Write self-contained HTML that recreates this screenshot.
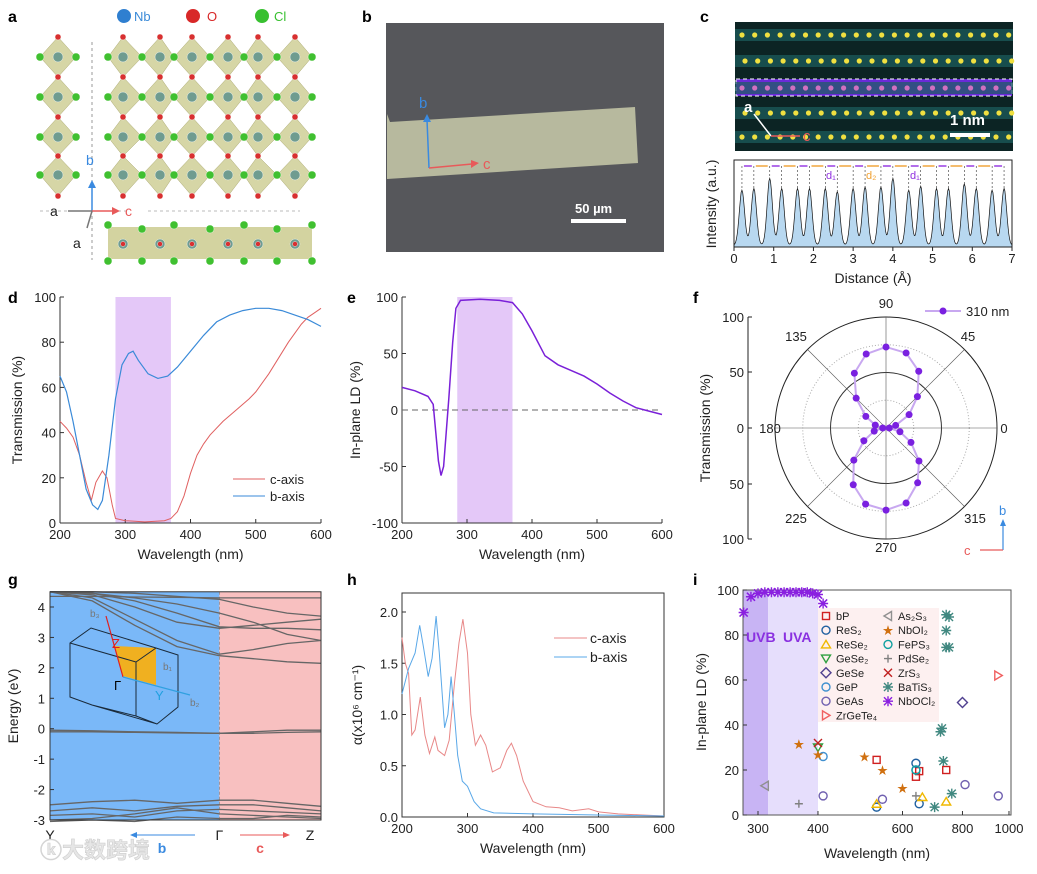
<!DOCTYPE html>
<html><head><meta charset="utf-8">
<style>
body{margin:0;background:#fff;}
svg{display:block;font-family:"Liberation Sans","Noto Sans CJK SC",sans-serif;}
.pl{font-size:16px;font-weight:bold;fill:#000;}
</style></head>
<body>
<svg id="fig" width="1037" height="874" viewBox="0 0 1037 874">
<text class="pl" x="8" y="22">a</text>
<text class="pl" x="362" y="22">b</text>
<text class="pl" x="700" y="22">c</text>
<text class="pl" x="8" y="303">d</text>
<text class="pl" x="347" y="303">e</text>
<text class="pl" x="693" y="303">f</text>
<text class="pl" x="8" y="585">g</text>
<text class="pl" x="347" y="585">h</text>
<text class="pl" x="693" y="585">i</text>

<g>
<circle cx="124" cy="16" r="7" fill="#2f7fd0"/><text x="134" y="21" font-size="13" fill="#3a8ad8">Nb</text>
<circle cx="193" cy="16" r="7" fill="#d82828"/><text x="207" y="21" font-size="13" fill="#d82828">O</text>
<circle cx="262" cy="16" r="7" fill="#38c030"/><text x="274" y="21" font-size="13" fill="#38c030">Cl</text>
</g>
<g id="pa"></g>

<g>
<rect x="386" y="23" width="278" height="229" fill="#56575b"/>
<polygon points="387,114 390,122 635,107 638,163 387,179" fill="#b7b99e"/>
<line x1="429" y1="168" x2="427" y2="120" stroke="#3a8ae0" stroke-width="1.5"/>
<polygon points="427,114 423,122 431,122" fill="#3a8ae0"/>
<text x="419" y="108" font-size="15" fill="#3a8ae0">b</text>
<line x1="429" y1="168" x2="472" y2="164" stroke="#e85a5a" stroke-width="1.5"/>
<polygon points="479,163 471,160 471,168" fill="#e85a5a"/>
<text x="483" y="169" font-size="15" fill="#e85a5a">c</text>
<text x="575" y="213" font-size="13" font-weight="bold" fill="#fff">50 µm</text>
<rect x="571" y="219" width="55" height="4" fill="#fff"/>
</g>

<g id="pc">
<rect x="735" y="22" width="278" height="129" fill="#0c2424"/>
</g>
<g id="pcp"></g>

<g id="pd"></g>
<g id="pe"></g>
<g id="pf"></g>
<g id="pg"></g>
<g id="ph"></g>
<g id="pi"></g>
<text x="40" y="858" font-size="22" font-weight="bold" fill="#e6e6e6" stroke="#cfcfcf" stroke-width="0.6">ⓚ大数跨境</text>
</svg>
<script>
const NS='http://www.w3.org/2000/svg';
function mk(parent,tag,attrs,name){
  const el=document.createElementNS(NS,tag);
  for(const k in attrs) el.setAttribute(k,attrs[k]);
  
  
  parent.appendChild(el);return el;
}
function txt(parent,x,y,s,name,extra){
  const el=mk(parent,'text',Object.assign({x:x,y:y,'font-size':13,fill:'#222'},extra||{}),name);
  el.textContent=s;return el;
}
function lin(xd,xr,yd,yr){return [v=>xr[0]+(v-xd[0])/(xd[1]-xd[0])*(xr[1]-xr[0]), v=>yr[0]+(v-yd[0])/(yd[1]-yd[0])*(yr[1]-yr[0])];}
function pathOf(xs,ys,X,Y){return xs.map((x,i)=>(i?'L':'M')+X(x).toFixed(1)+','+Y(ys[i]).toFixed(1)).join('');}

const dWave=[200,210,220,230,240,248,255,265,272,280,285,300,330,360,370,380,390,400,410,420,430,450,470,490,500,520,550,570,580,590,600];
const dC=[45,42,38,30,18,10,18,23,20,8,2,1,0.5,1,2,5,12,22,30,35,39,45,50,55,58,66,80,88,91,93,95];
const dBWave=[200,210,220,230,240,250,258,265,275,285,295,305,312,320,335,350,365,380,400,420,440,460,480,500,520,540,560,580,600];
const dB=[65,58,45,30,15,8,6,10,30,55,70,75,76,72,66,64,65,69,76,83,89,92,94,95,95,94,92,90,87];
const eWave=[200,220,240,248,252,256,260,264,268,272,278,283,290,320,350,370,385,400,420,440,460,480,500,520,540,560,580,600];
const eLD=[20,17,12,5,-20,-45,-58,-50,-20,10,60,90,97,98,97,95,85,70,48,40,35,30,23,15,8,2,-1,-4];
const hCWave=[200,205,210,215,220,228,235,242,250,255,265,272,280,287,293,300,305,312,320,328,338,350,360,367,375,385,400,420,440,460,485,500,530,600];
const hC=[1.75,1.5,1.4,0.8,0.85,1.17,0.8,0.62,0.78,0.65,0.6,0.75,1.3,1.7,1.93,1.6,1.0,0.7,0.8,0.7,0.44,0.48,0.65,0.72,0.6,0.35,0.15,0.1,0.09,0.06,0.08,0.05,0.03,0.01];
const hBWave=[200,210,220,227,233,240,246,252,257,265,270,275,280,285,292,300,310,320,340,400,500,600];
const hB=[1.2,1.45,1.6,1.87,1.65,1.37,1.55,1.96,1.6,0.87,1.0,1.37,1.0,0.6,0.35,0.3,0.15,0.08,0.04,0.03,0.02,0.01];
const polarAngles=[0,15,30,45,60,75,90,105,120,135,150,165,180,195,210,225,240,255,270,285,300,315,330,345];
const polarT=[3,9,24,40,59,70,73,69,57,38,21,10,3,11,23,41,59,71,74,70,57,42,26,13];
const bandK=[0,0.25,0.5,0.75,1,1.2,1.4,1.6];
const bands=[
 [4.35,4.35,4.33,4.32,4.3,4.3,4.3,4.3],[4.5,4.45,4.2,3.8,3.35,3.3,3.3,3.25],[4.5,4.4,4.0,3.5,3.3,3.4,3.5,3.6],
 [4.5,4.3,3.6,2.9,2.45,2.6,2.8,2.9],[4.5,4.2,3.4,2.7,2.4,2.3,2.2,2.15],[4.5,4.45,4.3,4.1,3.8,3.5,3.1,2.9],
 [4.5,4.5,4.45,4.35,4.25,4.0,3.8,3.7],[-0.05,-0.07,-0.1,-0.12,-0.15,-0.1,-0.05,-0.05],[-0.1,-0.1,-0.12,-0.14,-0.15,-0.15,-0.12,-0.1],
 [-2.5,-2.4,-2.35,-2.45,-2.35,-2.35,-2.45,-2.55],[-2.7,-2.6,-2.7,-2.55,-2.5,-2.5,-2.6,-2.7],[-2.85,-2.8,-2.9,-2.7,-2.65,-2.7,-2.75,-2.8],
 [-3.0,-2.95,-2.8,-2.6,-2.8,-2.85,-2.9,-2.95],[-3.05,-3.0,-3.05,-2.9,-2.95,-2.95,-2.85,-2.9]];
const profPeaks=[0.2,0.5,0.9,1.2,1.6,1.9,2.3,2.6,3.0,3.3,3.7,4.0,4.4,4.7,5.1,5.4,5.8,6.1,6.5,6.8];
const profHeights=[0.7,0.72,0.85,0.72,0.72,0.72,0.72,0.68,0.72,0.74,0.74,0.85,0.7,0.75,0.72,0.72,0.78,0.72,0.7,0.72];
const iMaterials=['bP','ReS2','ReSe2','GeSe2','GeSe','GeP','GeAs','ZrGeTe4','As2S3','NbOI2','FePS3','PdSe2','ZrS3','BaTiS3'];
const iWave=[[530,640,650,740],[530,640,650],[530,660,740],[400],[800],[410,640],[410,545,810,950],[950],[310],[365,400,500,545,600],[640],[365,640],[400],[700,720,725,730,740,750,740,740,750,760]];
const iLD=[[24.5,17,19.5,20],[3.5,23,5],[5,8,6],[30],[50],[26,20],[8.5,7,13.5,8.5],[62],[13],[31.5,27,26,20,12],[20],[5,8.5],[32],[3.5,37,38.5,24,89,88,82,74.5,74.5,9.5]];
const nbWave=[280,290,300,310,320,330,340,350,360,370,380,390,400,410];
const nbLD=[90,97,98.5,99,99,99,99,99,99,99,99,98.5,98,94];

(function(){
 const g=document.getElementById('pa');
 const oY=[37,77,117,156,196], nY=[57,97,137,175];
 function oct(cx,cy,l,r,t,b){mk(g,'polygon',{points:`${cx},${t} ${r},${cy} ${cx},${b} ${l},${cy}`,fill:'#c8c888','fill-opacity':0.75,stroke:'#aaa870','stroke-width':0.5},'octahedron');}
 const nbX=[123,160,192,228,258,295], clX=[108,142,174,210,244,277,312];
 nY.forEach((y,i)=>{oct(58,y,40,76,oY[i],oY[i+1]); nbX.forEach((x,j)=>oct(x,y,clX[j],clX[j+1],oY[i],oY[i+1]));});
 function atom(x,y,r,c,n){mk(g,'circle',{cx:x,cy:y,r:r,fill:c,stroke:'#fff','stroke-width':0.4},n);}
 nY.forEach(y=>{atom(58,y,5,'#6f9c90','nb-atom');atom(40,y,4,'#40c030','cl-atom');atom(76,y,4,'#40c030','cl-atom');
   nbX.forEach(x=>atom(x,y,5,'#6f9c90','nb-atom'));clX.forEach(x=>atom(x,y,4,'#40c030','cl-atom'));});
 oY.forEach(y=>{atom(58,y,3,'#d83030','o-atom');nbX.forEach(x=>atom(x,y,3,'#d83030','o-atom'));});
 mk(g,'line',{x1:92,y1:42,x2:92,y2:260,stroke:'#999','stroke-dasharray':'3,3'},'divider');
 mk(g,'line',{x1:40,y1:211,x2:130,y2:211,stroke:'#bbb','stroke-dasharray':'3,3'},'divider');
 mk(g,'line',{x1:148,y1:211,x2:300,y2:211,stroke:'#bbb','stroke-dasharray':'3,3'},'divider');
 mk(g,'rect',{x:108,y:227,width:204,height:32,fill:'#c8c888','fill-opacity':0.8},'side-slab');
 [108,142,174,210,244,277,312].forEach((x,i)=>{atom(x,i%2?229:225,4,'#40c030','cl-atom');atom(x,261,4,'#40c030','cl-atom');});
 nbX.forEach(x=>{atom(x,244,5,'#6f9c90','nb-atom');atom(x,244,2.5,'#d83030','o-atom');});
 mk(g,'line',{x1:92,y1:211,x2:92,y2:185,stroke:'#3a8ae0','stroke-width':1.5},'b-axis-arrow');
 mk(g,'polygon',{points:'92,180 88,188 96,188',fill:'#3a8ae0'},'b-axis-head');
 txt(g,86,165,'b','b-label',{fill:'#3a8ae0','font-size':14});
 mk(g,'line',{x1:92,y1:211,x2:115,y2:211,stroke:'#e85a5a','stroke-width':1.5},'c-axis-arrow');
 mk(g,'polygon',{points:'120,211 112,207 112,215',fill:'#e85a5a'},'c-axis-head');
 txt(g,125,216,'c','c-label',{fill:'#e85a5a','font-size':14});
 mk(g,'line',{x1:92,y1:211,x2:68,y2:211,stroke:'#777','stroke-width':1.5},'a-axis-arrow');
 txt(g,50,216,'a','a-label',{'font-size':14});
 mk(g,'line',{x1:92,y1:211,x2:87,y2:228,stroke:'#777','stroke-width':1.5},'a2-axis-arrow');
 txt(g,73,248,'a','a2-label',{'font-size':14});
})();

(function(){
 const g=document.getElementById('pc');
 const rows=[35,61,88,113,137];
 rows.forEach((y,r)=>{
  if(r===2){mk(g,'rect',{x:736,y:79,width:276,height:17,fill:'#6a2ad8'},'highlight-row');
            mk(g,'rect',{x:736,y:79,width:276,height:17,fill:'none',stroke:'#fff','stroke-dasharray':'4,3'},'highlight-box');}
  mk(g,'rect',{x:735,y:y-6,width:278,height:12,fill:'#1d5f5f','fill-opacity':0.7},'atom-row-band');
  for(let i=0;i<22;i++){const x=742+i*12.7+(r%2)*3;
   mk(g,'circle',{cx:x,cy:y,r:2.6,fill:r===2?'#d070c0':'#f0e040'},'atom-column');}
 });
 mk(g,'line',{x1:771,y1:136,x2:754,y2:114,stroke:'#fff','stroke-width':1.5},'a-arrow');
 txt(g,744,112,'a','a-label',{fill:'#fff','font-size':15,'font-weight':'bold'});
 mk(g,'line',{x1:771,y1:136,x2:800,y2:136,stroke:'#e85a5a','stroke-width':1.5},'c-arrow');
 txt(g,803,141,'c','c-label',{fill:'#e85a5a','font-size':15});
 txt(g,950,125,'1 nm','scale-bar-label',{fill:'#fff','font-size':15,'font-weight':'bold'});
 mk(g,'rect',{x:950,y:133,width:40,height:4,fill:'#fff'},'scale-bar');
 const p=document.getElementById('pcp');
 const [X,Y]=lin([0,7],[734,1012],[0,1],[247,168]);
 let d='M'+X(0)+','+Y(0);
 for(let x=0;x<=7;x+=0.02){let v=0.02;profPeaks.forEach((c,i)=>{v+=profHeights[i]*Math.exp(-Math.pow((x-c)/0.095,2));});v=Math.min(v,0.95);d+='L'+X(x).toFixed(1)+','+Y(v).toFixed(1);}
 d+='L'+X(7)+','+Y(0)+'Z';
 mk(p,'path',{d:d,fill:'#b8d8f0',stroke:'#111','stroke-width':0.7},'profile-line');
 profPeaks.forEach((c,i)=>{mk(p,'line',{x1:X(c),y1:166,x2:X(c),y2:Y(profHeights[i]),stroke:'#333','stroke-dasharray':'2,2','stroke-width':0.6},'peak-guide');
   if(i<profPeaks.length-1) mk(p,'line',{x1:X(c)+2,y1:166,x2:X(profPeaks[i+1])-2,y2:166,stroke:i%2?'#f0a030':'#9030e0','stroke-width':1.4},'spacing-arrow');});
 txt(p,826,179,'d₁','d1-label',{fill:'#9030e0','font-size':11});
 txt(p,866,179,'d₂','d2-label',{fill:'#f0a030','font-size':11});
 txt(p,910,179,'d₁','d1b-label',{fill:'#9030e0','font-size':11});
 mk(p,'rect',{x:734,y:160,width:278,height:87,fill:'none',stroke:'#222'},'profile-frame');
 for(let t=0;t<=7;t++){mk(p,'line',{x1:X(t),y1:247,x2:X(t),y2:251,stroke:'#222'},'x-tick');txt(p,X(t),263,String(t),'x-tick-label',{'text-anchor':'middle'});}
 txt(p,873,283,'Distance (Å)','x-axis-title',{'text-anchor':'middle','font-size':14});
 txt(p,0,0,'Intensity (a.u.)','y-axis-title',{'text-anchor':'middle','font-size':14,transform:'translate(716,204) rotate(-90)'});
})();

function axes(g,X,Y,xt,yt,xr,yr,xtitle,ytitle,ytx,frame,yfmt){
 if(frame) mk(g,'rect',{x:xr[0],y:yr[1],width:xr[1]-xr[0],height:yr[0]-yr[1],fill:'none',stroke:'#333'},'plot-frame');
 else {mk(g,'line',{x1:xr[0],y1:yr[0],x2:xr[1],y2:yr[0],stroke:'#333'},'x-axis-line');mk(g,'line',{x1:xr[0],y1:yr[0],x2:xr[0],y2:yr[1],stroke:'#333'},'y-axis-line');}
 xt.forEach(t=>{mk(g,'line',{x1:X(t),y1:yr[0],x2:X(t),y2:yr[0]-4,stroke:'#333'},'x-tick');txt(g,X(t),yr[0]+16,String(t),'x-tick-label',{'text-anchor':'middle'});});
 yt.forEach(t=>{mk(g,'line',{x1:xr[0],y1:Y(t),x2:xr[0]+4,y2:Y(t),stroke:'#333'},'y-tick');txt(g,xr[0]-4,Y(t)+5,yfmt?yfmt(t):String(t),'y-tick-label',{'text-anchor':'end'});});
 txt(g,(xr[0]+xr[1])/2,yr[0]+36,xtitle,'x-axis-title',{'text-anchor':'middle','font-size':14});
 txt(g,0,0,ytitle,'y-axis-title',{'text-anchor':'middle','font-size':14,transform:`translate(${ytx},${(yr[0]+yr[1])/2}) rotate(-90)`});
}

(function(){
 const g=document.getElementById('pd');
 const [X,Y]=lin([200,600],[60,321],[0,100],[523,297]);
 mk(g,'rect',{x:X(285),y:297,width:X(370)-X(285),height:226,fill:'#e4c8f8'},'uv-band');
 axes(g,X,Y,[200,300,400,500,600],[0,20,40,60,80,100],[60,321],[523,297],'Wavelength (nm)','Transmission (%)',22,false);
 mk(g,'path',{d:pathOf(dWave,dC,X,Y),fill:'none',stroke:'#e06060','stroke-width':1},'c-axis-line');
 mk(g,'path',{d:pathOf(dBWave,dB,X,Y),fill:'none',stroke:'#3a8ad8','stroke-width':1.2},'b-axis-line');
 mk(g,'line',{x1:233,y1:479,x2:265,y2:479,stroke:'#e06060'},'legend-c-swatch');
 txt(g,270,484,'c-axis','legend-c',{'font-size':13});
 mk(g,'line',{x1:233,y1:496,x2:265,y2:496,stroke:'#3a8ad8'},'legend-b-swatch');
 txt(g,270,501,'b-axis','legend-b',{'font-size':13});
})();

(function(){
 const g=document.getElementById('pe');
 const [X,Y]=lin([200,600],[402,662],[-100,100],[523,297]);
 mk(g,'rect',{x:X(285),y:297,width:X(370)-X(285),height:226,fill:'#e4c8f8'},'uv-band');
 axes(g,X,Y,[200,300,400,500,600],[-100,-50,0,50,100],[402,662],[523,297],'Wavelength (nm)','In-plane LD (%)',360,false);
 mk(g,'line',{x1:402,y1:Y(0),x2:662,y2:Y(0),stroke:'#666','stroke-dasharray':'6,4'},'zero-line');
 mk(g,'path',{d:pathOf(eWave,eLD,X,Y),fill:'none',stroke:'#7a20d8','stroke-width':1.5},'ld-line');
})();

(function(){
 const g=document.getElementById('pf');
 const cx=886,cy=428,R=111,r=v=>v/100*R;
 mk(g,'circle',{cx:cx,cy:cy,r:R,fill:'none',stroke:'#222'},'outer-ring');
 [25,75].forEach(v=>mk(g,'circle',{cx:cx,cy:cy,r:r(v),fill:'none',stroke:'#aaa','stroke-dasharray':'1,2'},'minor-ring'));
 mk(g,'circle',{cx:cx,cy:cy,r:r(50),fill:'none',stroke:'#333'},'major-ring');
 [0,45,90,135].forEach(a=>{const t=a*Math.PI/180;mk(g,'line',{x1:cx-R*Math.cos(t),y1:cy+R*Math.sin(t),x2:cx+R*Math.cos(t),y2:cy-R*Math.sin(t),stroke:'#555','stroke-width':0.6},'spoke');});
 const lab=[[0,1004,433],[45,968,341],[90,886,308],[135,796,341],[180,770,433],[225,796,523],[270,886,552],[315,975,523]];
 lab.forEach(l=>txt(g,l[1],l[2],String(l[0]),'angle-label',{'text-anchor':'middle'}));
 mk(g,'line',{x1:748,y1:317,x2:748,y2:539,stroke:'#222'},'radial-axis');
 [[100,317],[50,372],[0,428],[50,484],[100,539]].forEach(t=>{mk(g,'line',{x1:748,y1:t[1],x2:752,y2:t[1],stroke:'#222'},'radial-tick');txt(g,744,t[1]+5,String(t[0]),'radial-tick-label',{'text-anchor':'end'});});
 txt(g,0,0,'Transmission (%)','y-axis-title',{'text-anchor':'middle','font-size':14,transform:'translate(710,428) rotate(-90)'});
 const pts=polarAngles.map((a,i)=>{const t=a*Math.PI/180;return [cx+r(polarT[i])*Math.cos(t),cy-r(polarT[i])*Math.sin(t)];});
 mk(g,'polygon',{points:pts.map(p=>p.join(',')).join(' '),fill:'none',stroke:'#c8a8f0','stroke-width':2},'series-310nm-line');
 pts.forEach(p=>mk(g,'circle',{cx:p[0],cy:p[1],r:3.5,fill:'#7a20e0'},'series-310nm-point'));
 mk(g,'line',{x1:925,y1:311,x2:961,y2:311,stroke:'#c8a8f0','stroke-width':2},'legend-swatch');
 mk(g,'circle',{cx:943,cy:311,r:3.5,fill:'#7a20e0'},'legend-marker');
 txt(g,966,316,'310 nm','legend-label',{'font-size':13});
 mk(g,'line',{x1:1003,y1:550,x2:1003,y2:524,stroke:'#3a8ae0','stroke-width':1.2},'b-arrow');
 mk(g,'polygon',{points:'1003,519 1000,526 1006,526',fill:'#3a8ae0'},'b-arrow-head');
 txt(g,999,515,'b','b-label',{fill:'#3a8ae0'});
 mk(g,'line',{x1:1003,y1:550,x2:980,y2:550,stroke:'#e85a5a','stroke-width':1.2},'c-arrow');
 txt(g,964,555,'c','c-label',{fill:'#e85a5a'});
})();

(function(){
 const g=document.getElementById('pg');
 const [X,Y]=lin([0,1.6],[50,321],[4,-3],[607,820]);
 const top=Y(4.5);
 mk(g,'rect',{x:50,y:top,width:X(1)-50,height:820-top,fill:'#7ab8f8'},'b-region');
 mk(g,'rect',{x:X(1),y:top,width:321-X(1),height:820-top,fill:'#f8c0c0'},'c-region');
 mk(g,'line',{x1:X(1),y1:top,x2:X(1),y2:820,stroke:'#777','stroke-dasharray':'3,2','stroke-width':0.6},'gamma-line');
 bands.forEach(b=>mk(g,'path',{d:pathOf(bandK,b,X,Y),fill:'none',stroke:'#666','stroke-width':1.3},'band'));
 mk(g,'rect',{x:50,y:top,width:271,height:820-top,fill:'none',stroke:'#333'},'plot-frame');
 [4,3,2,1,0,-1,-2,-3].forEach(t=>{mk(g,'line',{x1:50,y1:Y(t),x2:54,y2:Y(t),stroke:'#333'},'y-tick');txt(g,45,Y(t)+5,String(t),'y-tick-label',{'text-anchor':'end'});});
 txt(g,0,0,'Energy (eV)','y-axis-title',{'text-anchor':'middle','font-size':14,transform:'translate(18,706) rotate(-90)'});
 txt(g,50,840,'Y','y-point',{'text-anchor':'middle','font-size':14});
 txt(g,X(1),840,'Γ','gamma-point',{'text-anchor':'middle','font-size':14});
 txt(g,310,840,'Z','z-point',{'text-anchor':'middle','font-size':14});
 mk(g,'line',{x1:136,y1:835,x2:195,y2:835,stroke:'#3a8ae0'},'b-direction');
 mk(g,'polygon',{points:'130,835 137,832 137,838',fill:'#3a8ae0'},'b-direction-head');
 txt(g,162,853,'b','b-dir-label',{fill:'#3a8ae0','font-size':14,'font-weight':'bold','text-anchor':'middle'});
 mk(g,'line',{x1:240,y1:835,x2:284,y2:835,stroke:'#e85a5a'},'c-direction');
 mk(g,'polygon',{points:'290,835 283,832 283,838',fill:'#e85a5a'},'c-direction-head');
 txt(g,260,853,'c','c-dir-label',{fill:'#e85a5a','font-size':14,'font-weight':'bold','text-anchor':'middle'});
 mk(g,'polygon',{points:'114,646 156,648 156,685 123,676',fill:'#f0b020'},'bz-plane');
 mk(g,'path',{d:'M70,643L91,628L156,648L178,655L178,707L157,724L92,705L70,697Z M92,705L136,716L136,662L70,643 M136,662L156,648 M136,716L157,724',fill:'none',stroke:'#1a2a3a','stroke-width':1},'bz-outline');
 mk(g,'line',{x1:123,y1:677,x2:106,y2:616,stroke:'#e02020','stroke-width':1.2},'z-direction');
 txt(g,112,648,'Z','bz-z',{fill:'#e02020','font-size':13});
 mk(g,'line',{x1:123,y1:677,x2:190,y2:695,stroke:'#30a0e0','stroke-width':1.2},'y-direction');
 txt(g,155,700,'Y','bz-y',{fill:'#20a0e0','font-size':13});
 txt(g,114,690,'Γ','bz-gamma',{'font-size':13,fill:'#000'});
 txt(g,90,617,'b₃','bz-b3',{fill:'#777','font-size':10});
 txt(g,163,670,'b₁','bz-b1',{fill:'#777','font-size':10});
 txt(g,190,706,'b₂','bz-b2',{fill:'#777','font-size':10});
})();

(function(){
 const g=document.getElementById('ph');
 const [X,Y]=lin([200,600],[402,664],[0,2],[817,612]);
 axes(g,X,Y,[200,300,400,500,600],[0,0.5,1,1.5,2],[402,664],[817,593],'Wavelength (nm)','α(x10⁶ cm⁻¹)',362,true,t=>t.toFixed(1));
 mk(g,'path',{d:pathOf(hCWave,hC,X,Y),fill:'none',stroke:'#e88888','stroke-width':1},'c-axis-line');
 mk(g,'path',{d:pathOf(hBWave,hB,X,Y),fill:'none',stroke:'#5aa8e8','stroke-width':1},'b-axis-line');
 mk(g,'line',{x1:554,y1:638,x2:587,y2:638,stroke:'#e88888'},'legend-c-swatch');
 txt(g,590,643,'c-axis','legend-c',{'font-size':14});
 mk(g,'line',{x1:554,y1:657,x2:587,y2:657,stroke:'#5aa8e8'},'legend-b-swatch');
 txt(g,590,662,'b-axis','legend-b',{'font-size':14});
})();

(function(){
 const g=document.getElementById('pi');
 const X=v=>758+480*Math.log10(v/300), Y=v=>815-v*2.25;
 mk(g,'rect',{x:743,y:590,width:X(315)-743,height:225,fill:'#c8b4f4'},'uvb-region');
 mk(g,'rect',{x:X(315),y:590,width:X(400)-X(315),height:225,fill:'#e6defc'},'uva-region');
 txt(g,746,642,'UVB','uvb-label',{fill:'#8a30e0','font-size':14,'font-weight':'bold'});
 txt(g,783,642,'UVA','uva-label',{fill:'#8a30e0','font-size':14,'font-weight':'bold'});
 mk(g,'rect',{x:818,y:608,width:121,height:114,fill:'#fdf0f0'},'legend-box');
 mk(g,'rect',{x:743,y:590,width:268,height:225,fill:'none',stroke:'#555'},'plot-frame');
 [300,400,600,800,1000].forEach(t=>{mk(g,'line',{x1:X(t),y1:815,x2:X(t),y2:811,stroke:'#333'},'x-tick');txt(g,X(t),833,String(t),'x-tick-label',{'text-anchor':'middle'});});
 [0,20,40,60,80,100].forEach(t=>{mk(g,'line',{x1:743,y1:Y(t),x2:747,y2:Y(t),stroke:'#333'},'y-tick');txt(g,739,Y(t)+5,String(t),'y-tick-label',{'text-anchor':'end'});});
 txt(g,877,858,'Wavelength (nm)','x-axis-title',{'text-anchor':'middle','font-size':14});
 txt(g,0,0,'In-plane LD (%)','y-axis-title',{'text-anchor':'middle','font-size':14,transform:'translate(706,702) rotate(-90)'});
 const styles=[['sq','#d02020'],['hex','#2060a0'],['tri','#f0b800'],['dtri','#30a040'],['dia','#504090'],['circ','#4090d0'],['circ','#7060b0'],['rtri','#f06060'],['ltri','#909090'],['star','#d07010'],['hex','#10a0a0'],['plus','#808080'],['x','#c02020'],['ast','#408880']];
 function marker(x,y,s,c,n){
  const a={fill:'none',stroke:c,'stroke-width':1.4};
  if(s==='sq')mk(g,'rect',Object.assign({x:x-3.5,y:y-3.5,width:7,height:7},a),n);
  else if(s==='hex'||s==='circ')mk(g,'circle',Object.assign({cx:x,cy:y,r:4},a),n);
  else if(s==='tri')mk(g,'polygon',Object.assign({points:`${x},${y-4} ${x+4.5},${y+3.5} ${x-4.5},${y+3.5}`},a),n);
  else if(s==='dtri')mk(g,'polygon',Object.assign({points:`${x},${y+4} ${x+4.5},${y-3.5} ${x-4.5},${y-3.5}`},a),n);
  else if(s==='rtri')mk(g,'polygon',Object.assign({points:`${x+4},${y} ${x-3.5},${y-4.5} ${x-3.5},${y+4.5}`},a),n);
  else if(s==='ltri')mk(g,'polygon',Object.assign({points:`${x-4},${y} ${x+3.5},${y-4.5} ${x+3.5},${y+4.5}`},a),n);
  else if(s==='dia')mk(g,'polygon',Object.assign({points:`${x},${y-5} ${x+5},${y} ${x},${y+5} ${x-5},${y}`},a),n);
  else if(s==='star'){const t=mk(g,'text',{x:x,y:y+4,'text-anchor':'middle','font-size':11,fill:c},n);t.textContent='★';}
  else if(s==='plus')mk(g,'path',Object.assign({d:`M${x-4},${y}h8M${x},${y-4}v8`},a),n);
  else if(s==='x')mk(g,'path',Object.assign({d:`M${x-4},${y-4}l8,8M${x+4},${y-4}l-8,8`},a),n);
  else if(s==='ast')mk(g,'path',Object.assign({d:`M${x-5},${y}h10M${x},${y-5}v10M${x-4},${y-4}l8,8M${x+4},${y-4}l-8,8`},a),n);
 }
 iMaterials.forEach((m,i)=>iWave[i].forEach((w,j)=>marker(X(w),Y(iLD[i][j]),styles[i][0],styles[i][1],'point-'+m)));
 nbWave.forEach((w,i)=>{marker(X(w),Y(nbLD[i]),'ast','#8a20e0','point-NbOCl2');marker(X(w),Y(nbLD[i]),'x','#8a20e0','point-NbOCl2');});
 const names=['bP','ReS₂','ReSe₂','GeSe₂','GeSe','GeP','GeAs','ZrGeTe₄','As₂S₃','NbOI₂','FePS₃','PdSe₂','ZrS₃','BaTiS₃','NbOCl₂'];
 names.forEach((n,i)=>{const col=i<8?0:1;const row=i<8?i:i-8;const x=col?888:826,y=616+row*14.2;
  if(i<14)marker(x,y,styles[i][0],styles[i][1],'legend-marker');else{marker(x,y,'ast','#8a20e0','legend-marker');}
  txt(g,x+10,y+4,n,'legend-entry',{'font-size':11});});
})();
</script>
</body></html>
